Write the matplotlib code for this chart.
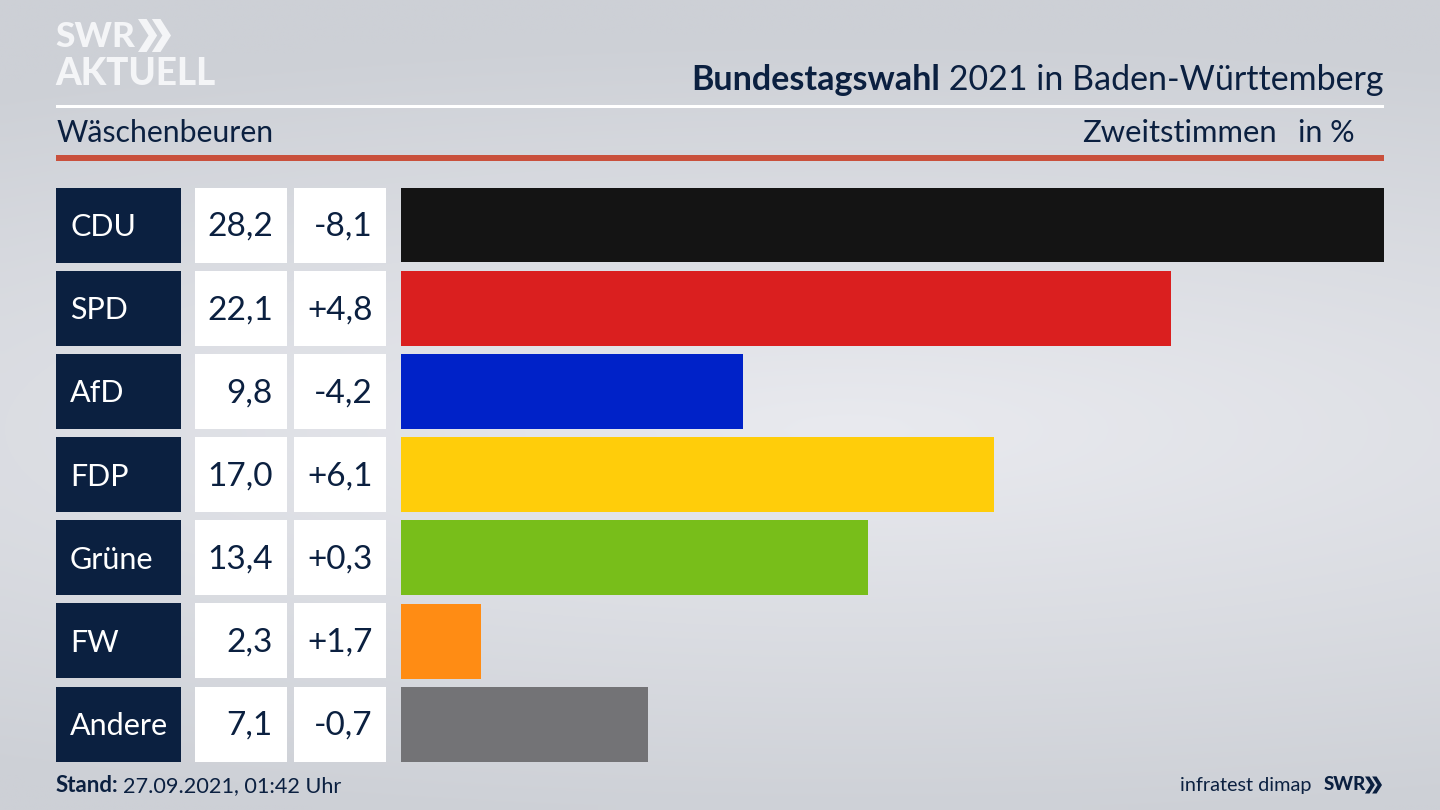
#!/usr/bin/env python3
import numpy as np
import matplotlib
matplotlib.use('Agg')
import matplotlib.pyplot as plt
from matplotlib.patches import Rectangle, Polygon

parteien = ['CDU', 'SPD', 'AfD', 'FDP', 'Grüne', 'FW', 'Andere']
werte = [28.2, 22.1, 9.8, 17.0, 13.4, 2.3, 7.1]
diffs = [-8.1, 4.8, -4.2, 6.1, 0.3, 1.7, -0.7]
farben = ['#141414', '#DA1F1F', '#0022C8', '#FFCD0A', '#78BE1A', '#FF8C14', '#737376']

NAVY = '#0B2040'
FONT = 'Lato'


def deutsch(v, vorzeichen=False):
    txt = ('%+.1f' if vorzeichen else '%.1f') % v
    return txt.replace('.', ',')


def chevrons(ax, x, y, h, color):
    # Doppelpfeil vom SWR-Logo
    b = h * 0.58
    for dx in (0, h * 0.42):
        ax.add_patch(Polygon([(x + dx, y), (x + dx + b * 0.45, y), (x + dx + b, y + h / 2),
                              (x + dx + b * 0.45, y + h), (x + dx, y + h), (x + dx + b * 0.55, y + h / 2)],
                             closed=True, fc=color, ec='none'))


fig = plt.figure(figsize=(14.4, 8.1), dpi=100)

# Hintergrund und alles, was in Pixeln liegt
bg = fig.add_axes([0, 0, 1, 1])
bg.set_xlim(0, 1440)
bg.set_ylim(810, 0)
bg.axis('off')

yy, xx = np.mgrid[0:810:82j, 0:1440:145j]
dist = np.sqrt(((xx - 850) / 1700) ** 2 + ((yy - 430) / 400) ** 2)
verlauf = np.clip(1 - dist, 0, 1)
oben = np.array([0xCD, 0xD0, 0xD6]) / 255
mitte = np.array([0xE9, 0xEA, 0xEF]) / 255
hg = oben + (mitte - oben) * verlauf[..., None]
bg.imshow(hg, extent=(0, 1440, 810, 0), aspect='auto', interpolation='bilinear', zorder=0)

# Kopf
bg.add_patch(Rectangle((56, 104.5), 1328, 3, fc='white', ec='none'))
bg.add_patch(Rectangle((56, 155), 1328, 5.5, fc='#C9503C', ec='none'))

bg.text(55, 37, 'SWR', family=FONT, weight='black', fontsize=25.5, color='#F4F5F7', va='center', ha='left')
chevrons(bg, 138, 19, 33, '#F4F5F7')
bg.text(55, 74, 'AKTUELL', family=FONT, weight='black', fontsize=26.5, color='#F4F5F7', va='center', ha='left')

t2 = bg.text(1384, 80, ' 2021 in Baden-Württemberg', family=FONT, fontsize=24.5, color=NAVY, va='center', ha='right')
fig.canvas.draw()
box = t2.get_window_extent()
bg.text(box.x0, 80, 'Bundestagswahl', family=FONT, weight='bold', fontsize=24.5, color=NAVY, va='center', ha='right')

bg.text(57, 133, 'Wäschenbeuren', family=FONT, fontsize=21.8, color=NAVY, va='center', ha='left')
bg.text(1277, 133, 'Zweitstimmen', family=FONT, fontsize=22.3, color=NAVY, va='center', ha='right')
bg.text(1355, 133, 'in %', family=FONT, fontsize=22, color=NAVY, va='center', ha='right')

# Tabelle links
for i, partei in enumerate(parteien):
    yc = 225 + i * 83.17
    bg.add_patch(Rectangle((56, yc - 37.5), 125, 75, fc=NAVY, ec='none'))
    bg.add_patch(Rectangle((195, yc - 37.5), 92, 75, fc='white', ec='none'))
    bg.add_patch(Rectangle((294, yc - 37.5), 92, 75, fc='white', ec='none'))
    bg.text(70, yc + 2, partei, family=FONT, fontsize=22, color='white', va='center', ha='left')
    bg.text(273, yc + 2, deutsch(werte[i]), family=FONT, fontsize=24, color=NAVY, va='center', ha='right')
    bg.text(372.5, yc + 2, deutsch(diffs[i], True), family=FONT, fontsize=24, color=NAVY, va='center', ha='right')

# Balken
ax = fig.add_axes([401 / 1440, 1 - 766 / 810, 983 / 1440, (766 - 183.4) / 810])
ax.patch.set_alpha(0)
ax.barh(range(len(werte)), werte, height=0.9, color=farben)
ax.set_xlim(0, max(werte))
ax.set_ylim(len(werte) - 0.5, -0.5)
ax.axis('off')

# Fuss
t3 = bg.text(56, 786, 'Stand:', family=FONT, weight='bold', fontsize=16, color=NAVY, va='center', ha='left')
box = t3.get_window_extent()
bg.text(box.x1 + 4, 786, '27.09.2021, 01:42 Uhr', family=FONT, fontsize=15.6, color=NAVY, va='center', ha='left')
bg.text(1312, 786, 'infratest dimap', family=FONT, fontsize=14.3, color=NAVY, va='center', ha='right')
bg.text(1324, 785, 'SWR', family=FONT, weight='black', fontsize=13.5, color=NAVY, va='center', ha='left')
chevrons(bg, 1365, 776.5, 17, NAVY)

fig.savefig('out.png', dpi=100)
